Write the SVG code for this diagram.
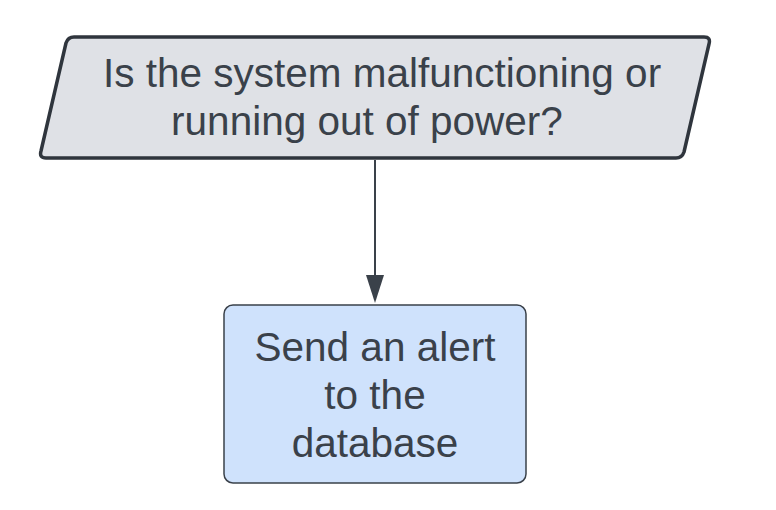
<svg xmlns="http://www.w3.org/2000/svg" width="776" height="510" viewBox="0 0 776 510">
<style>
.t{font-family:"Liberation Sans",Arial,sans-serif;font-size:40.5px;fill:#3a414a;text-anchor:middle}
</style>
<rect width="776" height="510" fill="#ffffff"/>
<g id="connectors">
<line x1="375" y1="160" x2="375" y2="275" stroke="#3a414a" stroke-width="2"/>
<path d="M366 275 L384 275 L375 303 Z" fill="#3a414a"/>
</g>
<g id="n1">
<path d="M74 37 L704 37 Q711 37 709 44 L684 152 Q682 158 676 158 L46 158 Q39 158 41 151 L66 43 Q68 37 74 37 Z" fill="#dfe1e6" stroke="#2f353d" stroke-width="3.5" stroke-linejoin="round"/>
<text class="t" x="382" y="87">Is the system malfunctioning or</text>
<text class="t" x="367" y="135">running out of power?</text>
</g>
<g id="n2">
<rect x="224" y="305" width="302" height="178" rx="9" fill="#cfe2fc" stroke="#3a414a" stroke-width="1.5"/>
<text class="t" x="375" y="361">Send an alert</text>
<text class="t" x="375" y="409">to the</text>
<text class="t" x="375" y="457">database</text>
</g>
</svg>
